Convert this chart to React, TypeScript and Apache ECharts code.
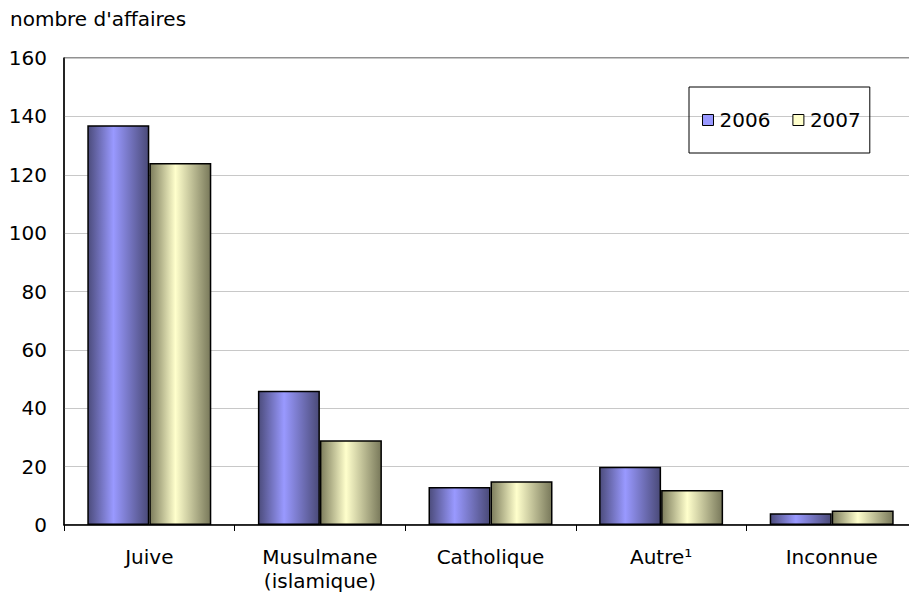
import React, { useEffect, useRef } from "react";
import * as echarts from "echarts";

const categories = ["Juive", "Musulmane\n(islamique)", "Catholique", "Autre\u00b9", "Inconnue"];
const series2006 = [137, 46, 13, 20, 4];
const series2007 = [124, 29, 15, 12, 5];
const yTicks = { min: 0, max: 160, interval: 20 };

const FONT = "DejaVu Sans";

export default function App() {
  const ref = useRef<HTMLDivElement>(null);
  useEffect(() => {
    if (!ref.current) return;
    const chart = echarts.init(ref.current, undefined, { renderer: "svg" });
    const grad = (dark: string, light: string, dark2: string) =>
      new echarts.graphic.LinearGradient(0, 0, 1, 0, [
        { offset: 0, color: dark },
        { offset: 0.42, color: light },
        { offset: 1, color: dark2 },
      ]);
    chart.setOption({
      animation: false,
      backgroundColor: "#ffffff",
      textStyle: { fontFamily: FONT },
      title: {
        text: "nombre d'affaires",
        left: 5,
        top: 4,
        textStyle: { fontFamily: FONT, fontSize: 20, fontWeight: "normal", color: "#000" },
      },
      legend: {
        left: 689,
        top: 87,
        orient: "horizontal",
        borderColor: "#000",
        borderWidth: 1,
        padding: [23, 9, 23, 13],
        itemGap: 22,
        itemWidth: 11,
        itemHeight: 11,
        textStyle: { fontFamily: FONT, fontSize: 20, color: "#000", padding: [0, 0, 0, 1] },
        data: [
          { name: "2006", icon: "rect", itemStyle: { color: "#9999ff", borderColor: "#000", borderWidth: 1 } },
          { name: "2007", icon: "rect", itemStyle: { color: "#ffffcc", borderColor: "#000", borderWidth: 1 } },
        ],
      },
      grid: {
        left: 64,
        top: 58,
        width: 853,
        bottom: 71,
        show: true,
        borderColor: "#222",
        borderWidth: 1,
        containLabel: false,
      },
      xAxis: {
        type: "category",
        data: categories,
        axisLine: { lineStyle: { color: "#000", width: 1.5 } },
        axisTick: { show: true, length: 6, lineStyle: { color: "#000" } },
        axisLabel: {
          fontFamily: FONT,
          fontSize: 20,
          color: "#000",
          margin: 20,
          lineHeight: 24,
        },
      },
      yAxis: {
        type: "value",
        min: yTicks.min,
        max: yTicks.max,
        interval: yTicks.interval,
        axisLine: { show: true, lineStyle: { color: "#000", width: 1.5 } },
        axisTick: { show: false },
        splitLine: { lineStyle: { color: "#c8c8c8", width: 1 } },
        axisLabel: { fontFamily: FONT, fontSize: 20, color: "#000", margin: 17 },
      },
      series: [
        {
          name: "2006",
          type: "bar",
          data: series2006,
          barWidth: 62,
          barGap: "0%",
          itemStyle: {
            color: grad("#4c4c7c", "#9999ff", "#4a4a78"),
            borderColor: "#000",
            borderWidth: 1.5,
          },
        },
        {
          name: "2007",
          type: "bar",
          data: series2007,
          barWidth: 62,
          barGap: "0%",
          itemStyle: {
            color: grad("#7c7c5c", "#ffffcc", "#78785a"),
            borderColor: "#000",
            borderWidth: 1.5,
          },
        },
      ],
    });
    return () => chart.dispose();
  }, []);
  return (
    <div
      ref={ref}
      style={{ position: "fixed", left: 0, top: 0, width: 930, height: 596 }}
    />
  );
}
